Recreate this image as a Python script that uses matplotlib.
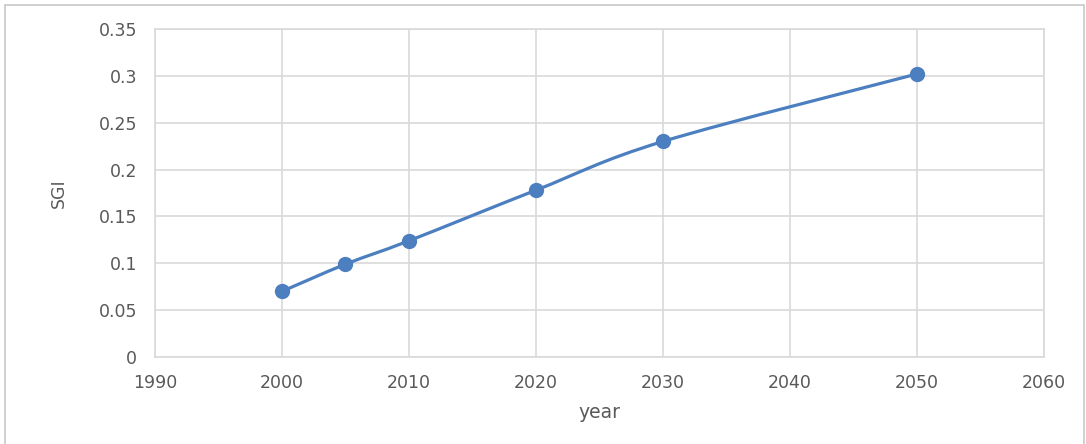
import numpy as np
import matplotlib.pyplot as plt
from matplotlib.path import Path
from matplotlib.patches import PathPatch, Rectangle

# Dados
anos = [2000, 2005, 2010, 2020, 2030, 2050]
sgi = [0.070, 0.099, 0.124, 0.178, 0.230, 0.302]

x_ticks = [1990, 2000, 2010, 2020, 2030, 2040, 2050, 2060]
y_ticks = [0, 0.05, 0.1, 0.15, 0.2, 0.25, 0.3, 0.35]
y_labels = ['0', '0.05', '0.1', '0.15', '0.2', '0.25', '0.3', '0.35']

cor_linha = '#4c7fc0'
cor_grade = '#d9d9d9'
cor_texto = '#595959'

fig = plt.figure(figsize=(10.86, 4.44), dpi=100)
ax = fig.add_axes([0.1427, 0.196, 0.8186, 0.7387])

# Linha suavizada (estilo Excel) com curvas de Bezier
pts = list(zip(anos, sgi))
verts = [pts[0]]
codes = [Path.MOVETO]
t = 1.0 / 6.0
for i in range(len(pts) - 1):
    p0 = pts[i - 1] if i > 0 else pts[i]
    p1 = pts[i]
    p2 = pts[i + 1]
    p3 = pts[i + 2] if i + 2 < len(pts) else pts[i + 1]
    c1 = (p1[0] + (p2[0] - p0[0]) * t, p1[1] + (p2[1] - p0[1]) * t)
    c2 = (p2[0] - (p3[0] - p1[0]) * t, p2[1] - (p3[1] - p1[1]) * t)
    verts += [c1, c2, p2]
    codes += [Path.CURVE4] * 3
ax.add_patch(PathPatch(Path(verts, codes), facecolor='none', edgecolor=cor_linha,
                       linewidth=2.3, capstyle='round', zorder=3))
ax.plot(anos, sgi, linestyle='none', marker='o', markersize=10,
        color=cor_linha, zorder=4)

ax.set_xlim(1990, 2060)
ax.set_ylim(0, 0.35)
ax.set_xticks(x_ticks)
ax.set_xticklabels([str(v) for v in x_ticks])
ax.set_yticks(y_ticks)
ax.set_yticklabels(y_labels)
ax.tick_params(length=0, labelsize=12.5, colors=cor_texto)
ax.tick_params(axis='y', pad=13)
ax.tick_params(axis='x', pad=12)
ax.grid(True, color=cor_grade, linewidth=1.2)
ax.set_axisbelow(True)
for s in ax.spines.values():
    s.set_color(cor_grade)
    s.set_linewidth(1.2)

ax.set_xlabel('year', fontsize=13.5, color=cor_texto, labelpad=8)
ax.set_ylabel('SGI', fontsize=12.5, color=cor_texto, labelpad=22)

# Moldura externa do gráfico
fig.patches.append(Rectangle((5 / 1086, -0.01), 1079 / 1086, 1 - 5 / 444 + 0.01,
                             transform=fig.transFigure, fill=False,
                             edgecolor='#c8c8c8', linewidth=1.2))

plt.savefig('out.png', dpi=100)
